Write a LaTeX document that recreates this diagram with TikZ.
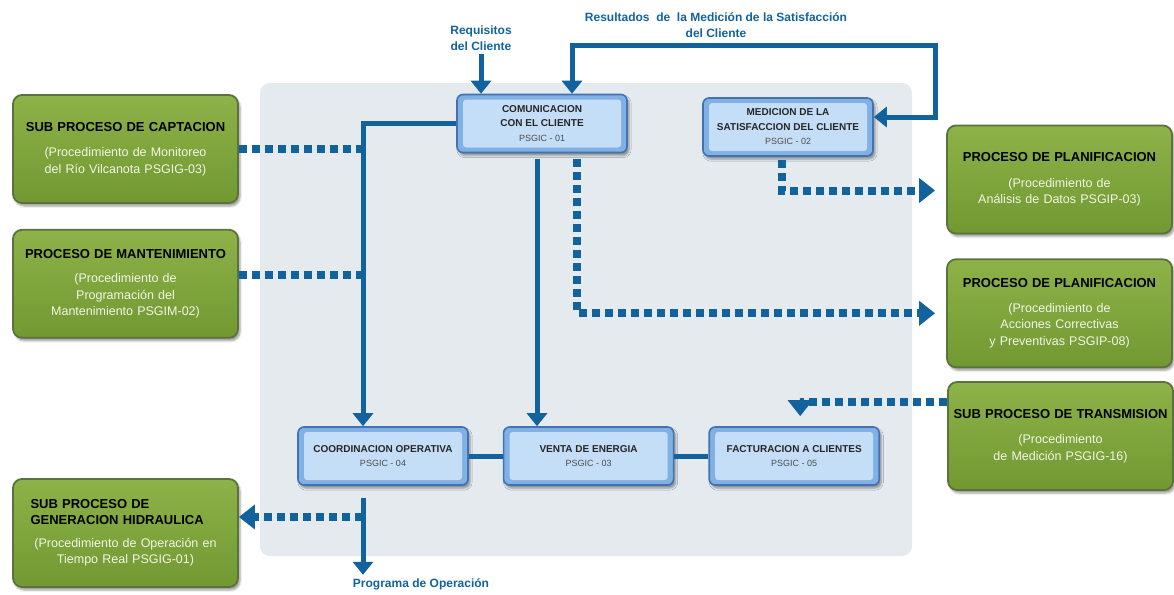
\documentclass[tikz,border=0pt]{standalone}
\usepackage{fontspec}
\setmainfont{Liberation Sans}
\usepackage{xcolor}
\usepackage{tikz}
\usetikzlibrary{arrows.meta,positioning,shadows.blur}

\definecolor{azul}{RGB}{18,98,158}
\definecolor{fondo}{RGB}{228,234,238}
\definecolor{verdeA}{RGB}{140,178,72}
\definecolor{verdeB}{RGB}{114,152,50}
\definecolor{verdeborde}{RGB}{92,114,62}
\definecolor{celeste}{RGB}{196,222,247}
\definecolor{celestemed}{RGB}{128,176,228}
\definecolor{celesteborde}{RGB}{66,114,178}
\definecolor{subtexto}{RGB}{242,246,230}

\newcommand{\tit}[1]{{\color{black}\bfseries\fontsize{13}{16}\selectfont #1}}
\newcommand{\cod}[1]{{\mdseries\color{black!70}\fontsize{9}{13}\selectfont #1}}

\begin{document}
\begin{tikzpicture}[x=1pt, y=-1pt,
  font=\fontsize{12.5}{16.5}\selectfont,
  panel/.style={
     rectangle, rounded corners=10pt,
     fill=fondo,
     minimum width=652, minimum height=473},
  caja/.style={
     rectangle, rounded corners=6pt,
     draw=celesteborde, line width=1.6pt,
     fill=celestemed,
     minimum width=170, minimum height=58,
     align=center, text=black!85,
     font=\bfseries\fontsize{10}{14.5}\selectfont,
     blur shadow={shadow xshift=2pt, shadow yshift=-3pt},
     path picture={\fill[celeste, rounded corners=3pt]
        ([shift={(6pt,-5pt)}]path picture bounding box.north west) rectangle
        ([shift={(-6pt,5pt)}]path picture bounding box.south east);}},
  proc/.style={
     rectangle, rounded corners=9pt,
     draw=verdeborde, line width=1.8pt,
     top color=verdeA, bottom color=verdeB,
     minimum width=225, minimum height=108,
     text width=218, inner sep=3pt, align=center,
     text=subtexto,
     blur shadow={shadow xshift=2pt, shadow yshift=-3pt}},
  etiq/.style={text=azul, align=center, font=\bfseries\fontsize{12}{16}\selectfont},
  linea/.style={draw=azul, line width=5pt},
  flecha/.style={linea, -{Triangle[width=20pt,length=13pt]}},
  doble/.style={linea, {Triangle[width=20pt,length=13pt]}-{Triangle[width=20pt,length=13pt]}},
  punteado/.style={draw=azul, line width=8pt, dash pattern=on 8pt off 5pt},
  puntaf/.style={-{Triangle[width=24pt,length=16pt]}},
  node distance=25pt and 34pt]
\useasboundingbox (0,0) rectangle (1174,594);
% background
\node[panel] (zona) at (586,319.5) {};
% left column
\node[proc] (capt) at (125.5,149) {\tit{SUB PROCESO DE CAPTACION}\\[9pt](Procedimiento de Monitoreo\\del Río Vilcanota PSGIG-03)};
\node[proc,below=25pt of capt] (mant) {\tit{PROCESO DE MANTENIMIENTO}\\[8pt](Procedimiento de\\Programación del\\Mantenimiento PSGIM-02)};
\node[proc] (gen) at (125.5,533) {\makebox[\hsize][l]{\hspace{14pt}\tit{SUB PROCESO DE}}\\\makebox[\hsize][l]{\hspace{14pt}\tit{GENERACION HIDRAULICA}}\\[6pt](Procedimiento de Operación en\\Tiempo Real PSGIG-01)};
% right column
\node[proc] (plan1) at (1059.5,179.5) {\tit{PROCESO DE PLANIFICACION}\\[9pt](Procedimiento de\\Análisis de Datos PSGIP-03)};
\node[proc,below=24pt of plan1] (plan2) {\tit{PROCESO DE PLANIFICACION}\\[8pt](Procedimiento de\\Acciones Correctivas\\y Preventivas PSGIP-08)};
\node[proc] (trans) at (1060.5,436) {\tit{SUB PROCESO DE TRANSMISION}\\[9pt](Procedimiento\\de Medición PSGIG-16)\\[10pt]};
% central boxes
\node[caja] (com) at (542,123.5) {COMUNICACION\\CON EL CLIENTE\\\cod{PSGIC - 01}};
\node[caja] (med) at (788,127) {MEDICION DE LA\\SATISFACCION DEL CLIENTE\\\cod{PSGIC - 02}};
\node[caja] (coord) at (383,456) {COORDINACION OPERATIVA\\\cod{PSGIC - 04}};
\node[caja,right=34pt of coord] (venta) {VENTA DE ENERGIA\\\cod{PSGIC - 03}};
\node[caja,right=34pt of venta]  (fact)  {FACTURACION A CLIENTES\\\cod{PSGIC - 05}};
% labels
\node[etiq] (req)  at (481,38)  {Requisitos\\del Cliente};
\node[etiq] (res)  at (716,25)  {Resultados\ \ de\ \ la Medición de la Satisfacción\\del Cliente};
\node[etiq] (prog) at (421,584) {Programa de Operación};
\coordinate (tronco) at ([xshift=-20pt]coord.north);
\coordinate (lazo) at (935,46);
% arrows
\draw[flecha] (req) -- (req |- com.north);
\draw[doble] ([xshift=30pt]com.north) |- (lazo) |- ([yshift=10pt]med.east);
\draw[flecha] (com.west) -| (tronco);
\draw[punteado] (capt.east) -- (capt.east -| tronco);
\draw[punteado] ([yshift=9pt]mant.east) -- ([yshift=9pt]mant.east -| tronco);
\draw[flecha,shorten <=6pt] ([xshift=-5pt]com.south) -- ([xshift=-5pt]com.south |- venta.north);
\draw[punteado,puntaf,shorten <=6pt,shorten >=11pt] ([xshift=35pt]com.south) |- (plan2.west);
\draw[punteado,puntaf,shorten <=3pt,shorten >=11pt] ([xshift=-6pt]med.south) |- ([yshift=-11pt]plan1.west);
\draw[linea] (coord) -- (venta);
\draw[linea] (venta) -- (fact);
\draw[punteado,puntaf,shorten >=10pt] ([yshift=34pt]trans.west) -| ([xshift=6pt]fact.north);
\draw[flecha,shorten <=12pt] (tronco |- coord.south) -- (tronco |- prog.north);
\draw[punteado,puntaf] ([yshift=16pt]gen.east -| tronco) -- ([yshift=16pt]gen.east);
\end{tikzpicture}
\end{document}
